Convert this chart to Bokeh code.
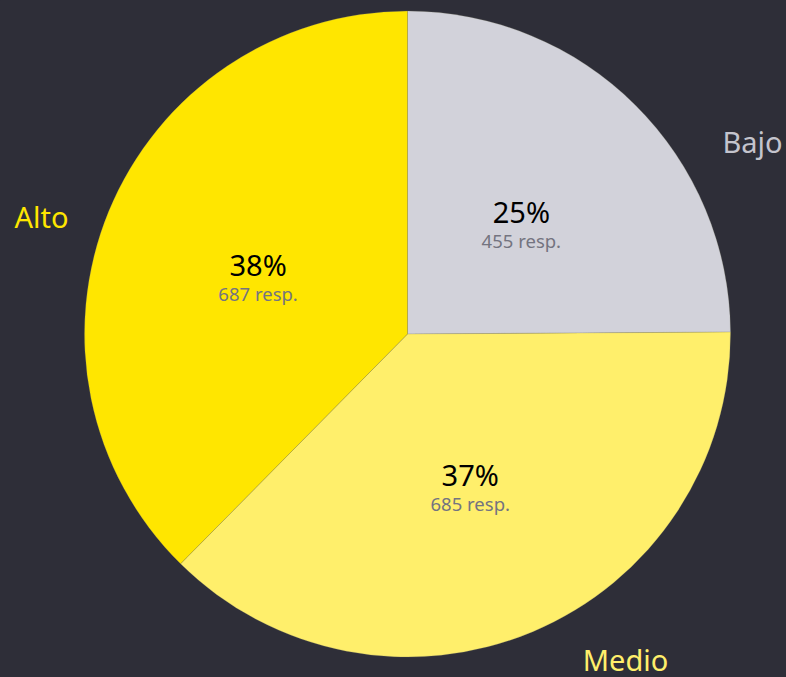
import numpy as np
from bokeh.plotting import figure
from bokeh.models import ColumnDataSource
from bokeh.core.properties import value
from bokeh.embed import file_html
from bokeh.resources import INLINE

# ---- data ----
categories = ["Bajo", "Medio", "Alto"]
responses = [455, 685, 687]
percent_labels = ["25%", "37%", "38%"]
resp_labels = ["455 resp.", "685 resp.", "687 resp."]

# ---- style ----
BG = "#2e2e38"
slice_colors = ["#d2d2da", "#ffef6b", "#ffe600"]
label_colors = ["#c4c4cd", "#ffef6b", "#ffe600"]
RESP_COLOR = "#747480"
FONT = "Noto Sans"

W, H = 786, 677
CX, CY = 407, 343.5   # pie centre in plot units (pixels)
R = 323

vals = np.array(responses, dtype=float)
frac = vals / vals.sum()
cum_end = np.cumsum(frac)
cum_start = cum_end - frac
# clockwise from 12 o'clock
start_angle = np.pi / 2 - cum_end * 2 * np.pi
end_angle = np.pi / 2 - cum_start * 2 * np.pi
mid = (start_angle + end_angle) / 2

src = ColumnDataSource(dict(
    cat=categories, start=start_angle, end=end_angle, color=slice_colors,
    x=[CX] * 3, y=[CY] * 3,
))

p = figure(width=W, height=H, x_range=(0, W), y_range=(0, H),
           output_backend="svg", toolbar_location=None, min_border=0,
           background_fill_color=BG, border_fill_color=BG)
p.axis.visible = False
p.grid.visible = False
p.outline_line_color = None

p.wedge(x="x", y="y", radius=R, start_angle="start", end_angle="end",
        fill_color="color", line_color="#8a8a70", line_width=0.4, line_alpha=0.6,
        source=src)

# inner labels
rin = 0.5 * R
ax = CX + rin * np.cos(mid)
ay = CY + rin * np.sin(mid)
p.text(x=ax, y=ay + 8, text=percent_labels, text_align="center",
       text_baseline="middle", text_font=value(FONT), text_font_size="29px",
       text_color="#000000")
p.text(x=ax, y=ay - 21, text=resp_labels, text_align="center",
       text_baseline="middle", text_font=value(FONT), text_font_size="18.5px",
       text_color=RESP_COLOR)

# outer labels (offsets of label centres from pie centre, in pixels)
outer_dx = [345, 218, -366]
outer_dy = [193, -325, 118]
p.text(x=[CX + d for d in outer_dx], y=[CY + d for d in outer_dy], text=categories,
       text_align="center", text_baseline="middle", text_font=value(FONT),
       text_font_size="29px", text_color=label_colors)

html = file_html(p, INLINE)
html = html.replace("<head>", "<head><style>html,body{background:%s;margin:0;padding:0;overflow:hidden;}</style>" % BG, 1)
open("out.html", "w").write(html)
